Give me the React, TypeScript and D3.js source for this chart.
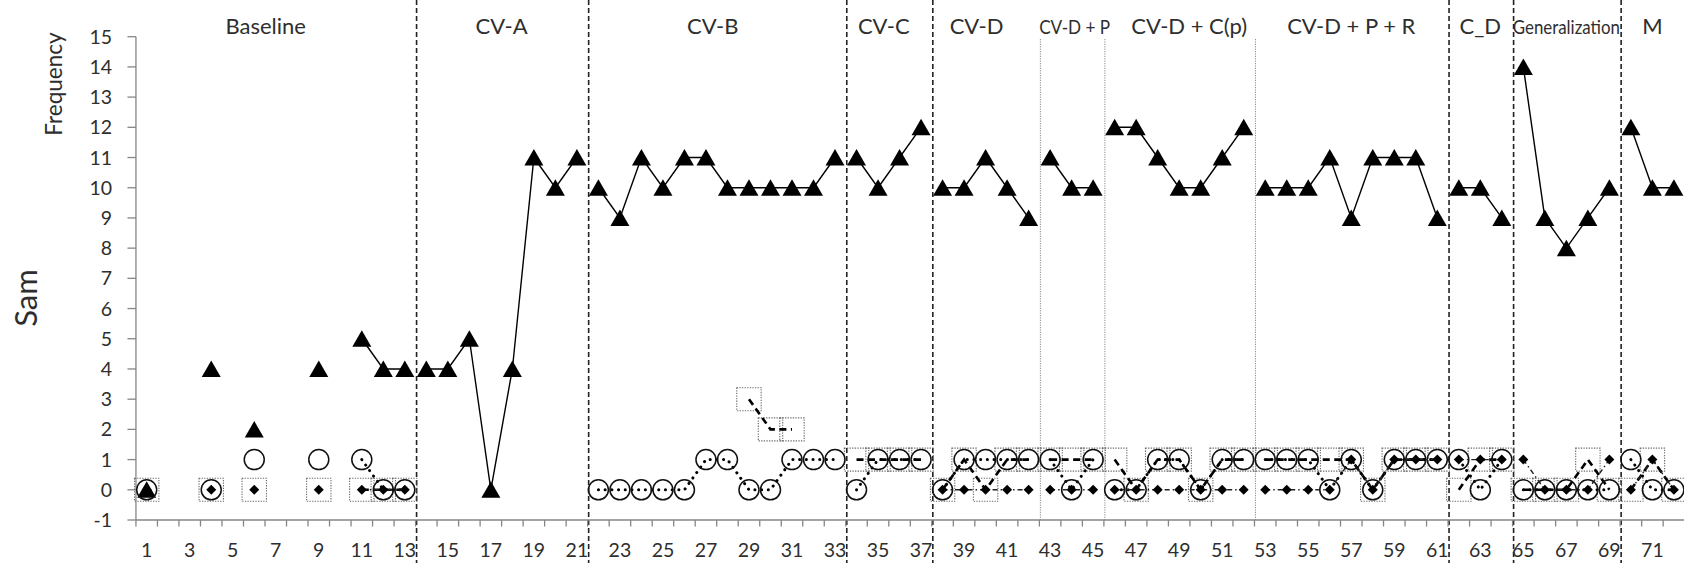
import React from "react";
import * as d3 from "d3";

const W = 1684;
const H = 563;
const N = null;

const xTickLabels = d3.range(1, 73, 2);
const yTicks = d3.range(-1, 16);

const phaseNames = ["Baseline", "CV-A", "CV-B", "CV-C", "CV-D", "CV-D + P", "CV-D + C(p)", "CV-D + P + R", "C_D", "Generalization", "M"];
const phaseEnds = [13, 21, 33, 37, 42, 45, 52, 61, 64, 69, 72];
const phaseLineKinds = ["dash", "dash", "dash", "dash", "dot", "dot", "dot", "dash", "dash", "dash"];

// sessions 1..72, grouped by phase
const triangleVals = [
  0, N, N, 4, N, 2, N, N, 4, N, 5, 4, 4,
  4, 4, 5, 0, 4, 11, 10, 11,
  10, 9, 11, 10, 11, 11, 10, 10, 10, 10, 10, 11,
  11, 10, 11, 12,
  10, 10, 11, 10, 9,
  11, 10, 10,
  12, 12, 11, 10, 10, 11, 12,
  10, 10, 10, 11, 9, 11, 11, 11, 9,
  10, 10, 9,
  14, 9, 8, 9, 10,
  12, 10, 10,
];
const squareVals = [
  0, N, N, 0, N, 0, N, N, 0, N, 0, 0, 0,
  N, N, N, N, N, N, N, N,
  N, N, N, N, N, N, N, 3, 2, 2, N, N,
  1, 1, 1, 1,
  0, 1, 0, 1, 1,
  1, 1, 1,
  1, 0, 1, 1, 0, 1, 1,
  1, 1, 1, 1, 1, 0, 1, 1, 1,
  0, 1, 1,
  0, 0, 0, 1, 0,
  0, 1, 0,
];
const circleVals = [
  0, N, N, 0, N, 1, N, N, 1, N, 1, 0, 0,
  N, N, N, N, N, N, N, N,
  0, 0, 0, 0, 0, 1, 1, 0, 0, 1, 1, 1,
  0, 1, 1, 1,
  0, 1, 1, 1, 1,
  1, 0, 1,
  0, 0, 1, 1, 0, 1, 1,
  1, 1, 1, 0, 1, 0, 1, 1, 1,
  1, 0, 1,
  0, 0, 0, 0, 0,
  1, 0, 0,
];
const diamondVals = [
  0, N, N, 0, N, 0, N, N, 0, N, 0, 0, 0,
  N, N, N, N, N, N, N, N,
  N, N, N, N, N, N, N, N, N, N, N, N,
  N, N, N, N,
  0, 0, 0, 0, 0,
  0, 0, 0,
  0, 0, 0, 0, 0, 0, 0,
  0, 0, 0, 0, 1, 0, 1, 1, 1,
  1, 1, 1,
  1, 0, 0, 0, 1,
  0, 1, 0,
];

type Pt = { s: number; v: number | null };

export default function App() {
  const step = 21.51;
  const x1 = 146.7;
  const x = d3.scaleLinear().domain([1, 2]).range([x1, x1 + step]);
  const y = d3.scaleLinear().domain([-1, 15]).range([520, 36.7]);
  const axisX = x(0.5);
  const axisY = y(-1);
  const font = "Lato, 'Open Sans', sans-serif";
  const txt = "#2e2e2e";

  const phaseStarts = phaseEnds.map((e, i) => (i === 0 ? 1 : phaseEnds[i - 1] + 1));

  const line = d3
    .line<Pt>()
    .defined((d) => d.v !== null)
    .x((d) => x(d.s))
    .y((d) => y(d.v as number));

  const segs = (vals: (number | null)[]) =>
    phaseStarts.map((st, i) => {
      const pts: Pt[] = [];
      for (let s = st; s <= phaseEnds[i]; s++) pts.push({ s, v: vals[s - 1] });
      return line(pts) || "";
    });

  const pts = (vals: (number | null)[]) =>
    vals.map((v, i) => ({ s: i + 1, v })).filter((d) => d.v !== null) as { s: number; v: number }[];

  const labelShift: Record<string, number> = { Baseline: -10, "CV-B": -4, "CV-C": -5, "CV-D": -9, "CV-D + P": 3, "CV-D + C(p)": 10 };
  const condensed: Record<string, number> = { "CV-D + P": 71, Generalization: 107 };

  const ticksX = d3.range(0.5, 80, 1);

  return (
    <svg width={W} height={H} style={{ position: "absolute", left: 0, top: 0, background: "#fff" }} fontFamily={font}>
      <rect x={0} y={0} width={W} height={H} fill="#fff" />
      {/* phase lines */}
      {phaseEnds.slice(0, -1).map((e, i) => {
        const px = x(e + 0.5) + 1;
        return phaseLineKinds[i] === "dash" ? (
          <line key={"pl" + i} x1={px} x2={px} y1={0} y2={H} stroke="#222" strokeWidth={1.6} strokeDasharray="5,3" />
        ) : (
          <line key={"pl" + i} x1={px} x2={px} y1={39} y2={axisY} stroke="#8a8a8a" strokeWidth={1} strokeDasharray="1.2,1.2" />
        );
      })}
      {/* phase labels */}
      {phaseNames.map((n, i) => {
        const cx = (x(phaseStarts[i]) + x(phaseEnds[i])) / 2 + (labelShift[n] || 0);
        const cond = condensed[n];
        return (
          <text
            key={"pn" + i}
            x={cx}
            y={34}
            textAnchor="middle"
            fontSize={cond ? 20 : 22}
            fill={txt}
            {...(cond ? { textLength: cond, lengthAdjust: "spacingAndGlyphs" } : {})}
          >
            {n}
          </text>
        );
      })}
      {/* axes */}
      <line x1={axisX} x2={axisX} y1={y(15)} y2={axisY} stroke="#868686" strokeWidth={1.3} />
      <line x1={axisX} x2={W} y1={axisY} y2={axisY} stroke="#868686" strokeWidth={1.3} />
      {yTicks.map((t) => (
        <g key={"yt" + t}>
          <line x1={axisX - 8.5} x2={axisX} y1={y(t)} y2={y(t)} stroke="#868686" strokeWidth={1.3} />
          <text x={112} y={y(t) + 7} textAnchor="end" fontSize={19.5} fill={txt}>
            {t}
          </text>
        </g>
      ))}
      {ticksX.map((t) => (
        <line key={"xt" + t} x1={x(t)} x2={x(t)} y1={axisY} y2={axisY + 6.5} stroke="#868686" strokeWidth={1.3} />
      ))}
      {xTickLabels.map((t) => (
        <text key={"xl" + t} x={x(t)} y={556.5} textAnchor="middle" fontSize={19.5} fill={txt}>
          {t}
        </text>
      ))}
      <text transform="translate(61.5,84) rotate(-90)" textAnchor="middle" fontSize={22.5} fill={txt}>
        Frequency
      </text>
      <text transform="translate(36.5,298) rotate(-90)" textAnchor="middle" fontSize={31} fill={txt}>
        Sam
      </text>

      {/* triangle series */}
      {segs(triangleVals).map((d, i) => (
        <path key={"tl" + i} d={d} fill="none" stroke="#000" strokeWidth={1.4} />
      ))}
      {pts(triangleVals).map((d) => {
        const cx = x(d.s), cy = y(d.v);
        return <path key={"tm" + d.s} d={`M${cx},${cy - 8.5}L${cx + 9.5},${cy + 8}L${cx - 9.5},${cy + 8}Z`} fill="#000" />;
      })}

      {/* square series */}
      {pts(squareVals).map((d) => (
        <rect key={"sm" + d.s} x={x(d.s) - 12.2} y={y(d.v) - 11.5} width={24.4} height={23} fill="none" stroke="#6a6a6a" strokeWidth={1.1} strokeDasharray="1.3,1.3" />
      ))}
      {segs(squareVals).map((d, i) => (
        <path key={"sl" + i} d={d} fill="none" stroke="#000" strokeWidth={2.6} strokeDasharray="7,4.5" />
      ))}

      {/* circle series */}
      {segs(circleVals).map((d, i) => (
        <path key={"cl" + i} d={d} fill="none" stroke="#000" strokeWidth={3} strokeLinecap="round" strokeDasharray="0.1,6.6" />
      ))}
      {pts(circleVals).map((d) => (
        <circle key={"cm" + d.s} cx={x(d.s)} cy={y(d.v)} r={10} fill="none" stroke="#111" strokeWidth={1.5} />
      ))}

      {/* diamond series */}
      {segs(diamondVals).map((d, i) => (
        <path key={"dl" + i} d={d} fill="none" stroke="#222" strokeWidth={1.4} strokeDasharray="5,3,1.5,3" />
      ))}
      {pts(diamondVals).map((d) => {
        const cx = x(d.s), cy = y(d.v);
        return <path key={"dm" + d.s} d={`M${cx},${cy - 5}L${cx + 5},${cy}L${cx},${cy + 5}L${cx - 5},${cy}Z`} fill="#000" />;
      })}
    </svg>
  );
}
